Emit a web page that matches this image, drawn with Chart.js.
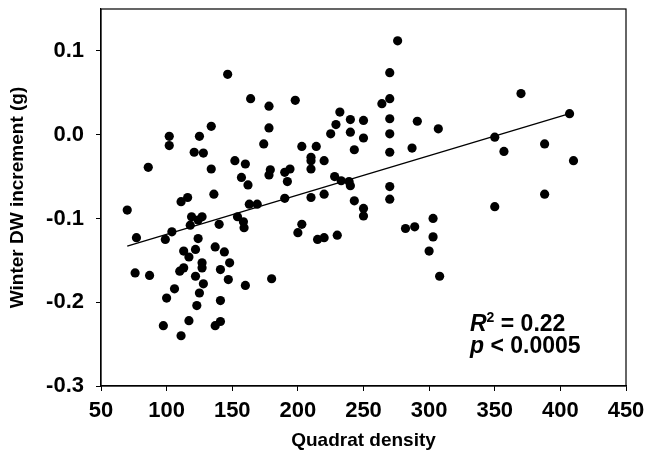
<!DOCTYPE html>
<html>
<head>
<meta charset="utf-8">
<script src="https://cdn.jsdelivr.net/npm/chart.js@4"></script>
<style>
  html, body { margin: 0; padding: 0; background: #fff; }
  #wrap { width: 646px; height: 457px; }
</style>
</head>
<body>
<div id="wrap"><canvas id="c" width="646" height="457"></canvas></div>
<script>
// quadrat density (x) and winter DW increment in g (y)
const density = [
  70, 77, 76, 87, 86, 99, 104, 102, 102, 111, 116, 125, 121, 128, 134, 134, 136, 146.5, 164, 152,
  160, 157, 162, 174, 119, 127, 118, 124, 140, 154, 158.5, 159, 163, 169, 124, 113, 122, 117, 137, 144,
  148, 127, 127, 141, 113, 110, 122, 147, 128, 160, 106, 125, 100, 141, 123, 97.5, 117, 137, 141, 111,
  276, 270, 270, 264, 178, 198, 178, 232, 229, 240, 250, 240, 250, 225, 243, 270, 270, 270, 291, 287,
  307, 203, 214, 210, 210, 220, 210, 179, 178, 190, 194, 192, 228, 233, 239, 240, 270, 190, 210, 220,
  243, 270, 250, 250, 203, 200, 215, 220, 230, 282, 289, 303, 303, 300, 308, 180, 370, 407, 350, 357,
  388, 410, 388, 350
];
const increment = [
  -0.090, -0.123, -0.165, -0.168, -0.039, -0.125, -0.116, -0.002, -0.013, -0.080, -0.075, -0.002, -0.021, -0.022, 0.010, -0.041, -0.071, 0.072, 0.043, -0.031,
  -0.035, -0.051, -0.060, -0.011, -0.098, -0.098, -0.108, -0.102, -0.107, -0.098, -0.104, -0.111, -0.083, -0.083, -0.124, -0.139, -0.137, -0.146, -0.134, -0.140,
  -0.153, -0.153, -0.159, -0.161, -0.159, -0.163, -0.169, -0.173, -0.178, -0.180, -0.184, -0.189, -0.195, -0.198, -0.204, -0.228, -0.222, -0.228, -0.223, -0.240,
  0.112, 0.074, 0.043, 0.037, 0.034, 0.041, 0.008, 0.027, 0.012, 0.018, 0.017, 0.003, -0.004, 0.001, -0.018, 0.019, 0.001, -0.021, 0.016, -0.016,
  0.007, -0.014, -0.014, -0.027, -0.031, -0.031, -0.041, -0.042, -0.048, -0.045, -0.041, -0.056, -0.050, -0.055, -0.056, -0.061, -0.062, -0.076, -0.075, -0.071,
  -0.079, -0.077, -0.088, -0.097, -0.107, -0.117, -0.125, -0.123, -0.120, -0.112, -0.110, -0.100, -0.122, -0.139, -0.169, -0.172, 0.049, 0.025, -0.003, -0.020,
  -0.011, -0.031, -0.071, -0.086
];
// fitted regression line end points
const fitX = [70, 407];
const fitY = [-0.133, 0.025];

const xTicks = [50, 100, 150, 200, 250, 300, 350, 400, 450];
const yTicks = [-0.3, -0.2, -0.1, 0.0, 0.1];

const FONT = "'Liberation Sans', Arial, sans-serif";

// box around the plot + R2 / p text
const frame = {
  id: "frame",
  afterDraw(chart) {
    const { ctx, chartArea: a } = chart;
    ctx.save();
    ctx.strokeStyle = "#000";
    ctx.lineWidth = 1.2;
    ctx.strokeRect(a.left, a.top, a.right - a.left, a.bottom - a.top);

    ctx.fillStyle = "#000";
    ctx.textBaseline = "alphabetic";
    let x = 470, y = 331;
    ctx.font = `italic bold 23px ${FONT}`;
    ctx.fillText("R", x, y);
    x += ctx.measureText("R").width;
    ctx.font = `bold 14px ${FONT}`;
    ctx.fillText("2", x, y - 9);
    x += ctx.measureText("2").width;
    ctx.font = `bold 23px ${FONT}`;
    ctx.fillText(" = 0.22", x, y);

    x = 470; y = 353;
    ctx.font = `italic bold 23px ${FONT}`;
    ctx.fillText("p", x, y);
    x += ctx.measureText("p").width;
    ctx.font = `bold 23px ${FONT}`;
    ctx.fillText(" < 0.0005", x, y);
    ctx.restore();
  }
};

new Chart(document.getElementById("c"), {
  type: "scatter",
  data: {
    datasets: [
      {
        label: "data",
        data: density.map((d, i) => ({ x: d, y: increment[i] })),
        backgroundColor: "#000",
        borderColor: "#000",
        pointRadius: 4.6,
        pointHoverRadius: 4.6,
        borderWidth: 0,
      },
      {
        label: "fit",
        type: "line",
        data: fitX.map((d, i) => ({ x: d, y: fitY[i] })),
        borderColor: "#000",
        borderWidth: 1.3,
        pointRadius: 0,
        fill: false,
      },
    ],
  },
  options: {
    responsive: false,
    animation: false,
    events: [],
    layout: { padding: { top: 9, right: 20, left: 0, bottom: 0 } },
    plugins: { legend: { display: false }, tooltip: { enabled: false } },
    scales: {
      x: {
        type: "linear",
        min: 50, max: 450,
        afterBuildTicks: (s) => { s.ticks = xTicks.map(v => ({ value: v })); },
        afterFit: (s) => { s.height = 71; s.paddingLeft = 0; s.paddingRight = 0; },
        border: { color: "#000", width: 1.2 },
        grid: { display: true, drawOnChartArea: false, drawTicks: true, tickLength: 5, color: "#000" },
        ticks: { color: "#000", padding: 7, maxRotation: 0, font: { family: FONT, size: 22, weight: "bold" } },
        title: { display: true, text: "Quadrat density", color: "#000", padding: { top: 2, bottom: 5 },
                 font: { family: FONT, size: 19, weight: "bold" } },
      },
      y: {
        type: "linear",
        min: -0.3, max: 0.15,
        afterBuildTicks: (s) => { s.ticks = yTicks.map(v => ({ value: v })); },
        afterFit: (s) => { s.width = 101; s.paddingTop = 0; s.paddingBottom = 0; },
        border: { color: "#000", width: 1.2 },
        grid: { display: true, drawOnChartArea: false, drawTicks: true, tickLength: 5, color: "#000" },
        ticks: { color: "#000", padding: 12, callback: (v) => v.toFixed(1),
                 font: { family: FONT, size: 22, weight: "bold" } },
        title: { display: true, text: "Winter DW increment (g)", color: "#000", padding: { top: 6, bottom: 2 },
                 font: { family: FONT, size: 19, weight: "bold" } },
      },
    },
  },
  plugins: [frame],
});
</script>
</body>
</html>
